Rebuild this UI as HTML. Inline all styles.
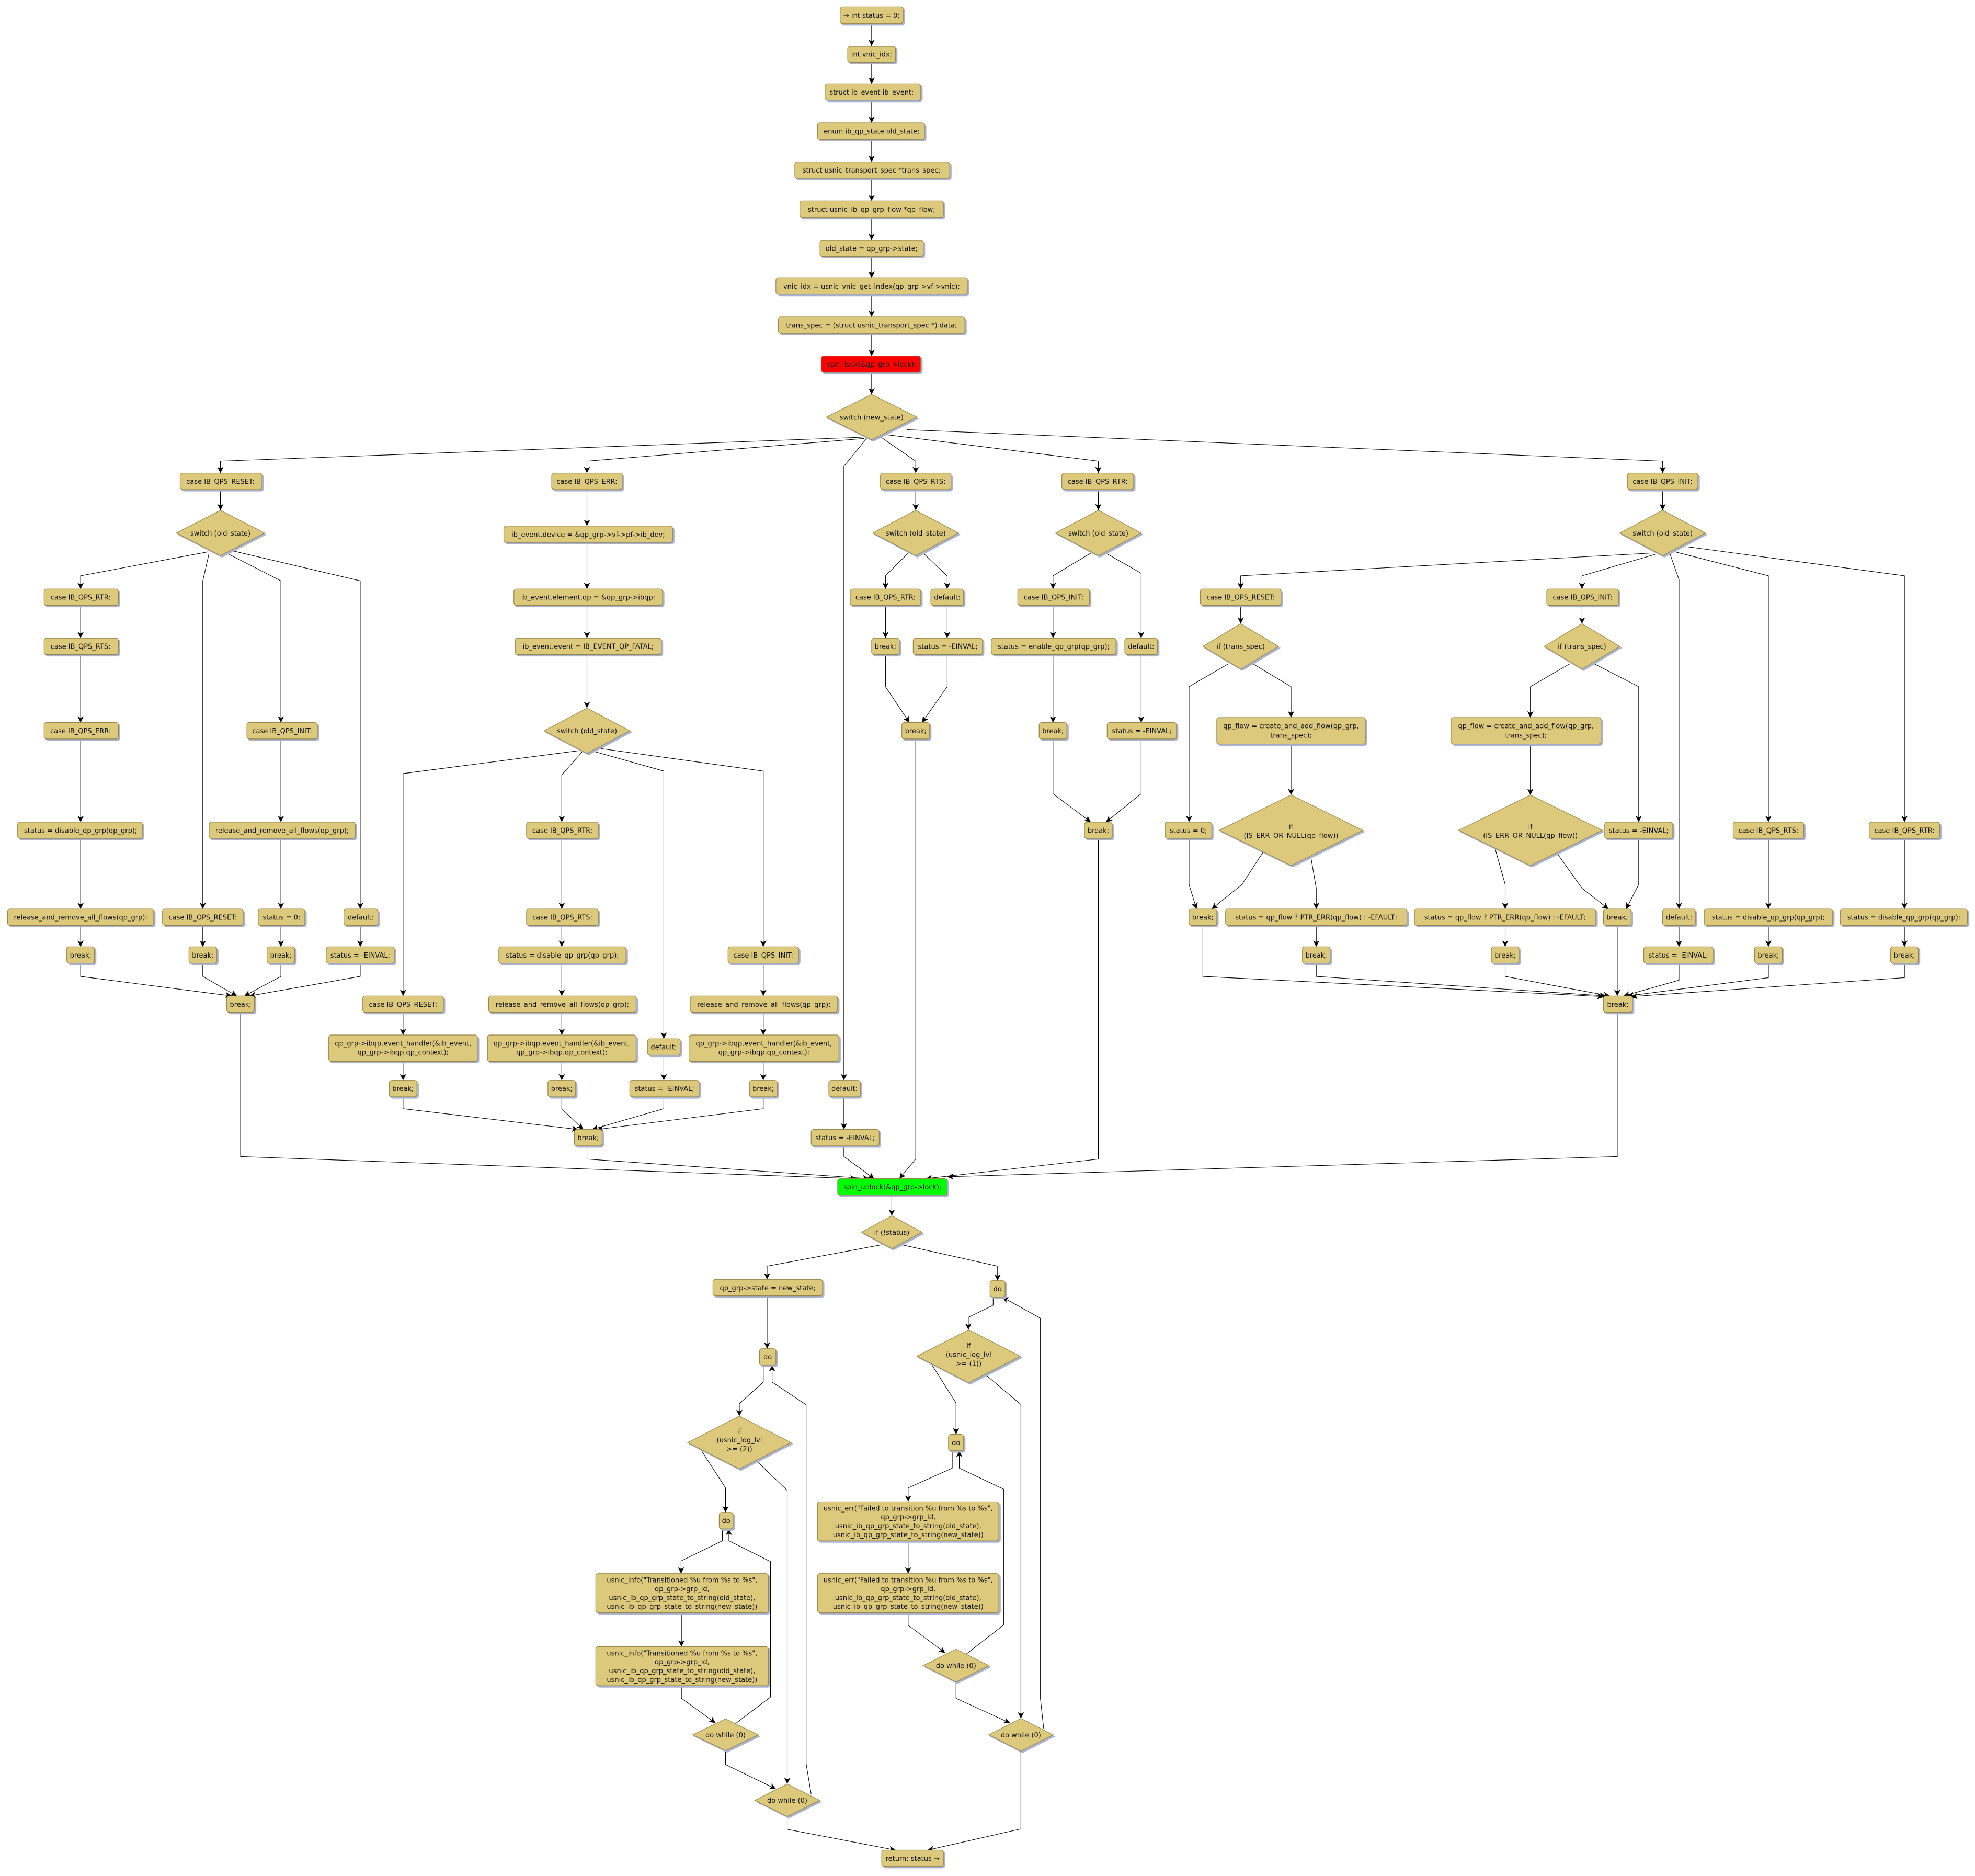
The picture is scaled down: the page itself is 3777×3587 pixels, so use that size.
<!DOCTYPE html>
<html><head><meta charset="utf-8"><style>
html,body{margin:0;padding:0;background:#fff}
svg{display:block}
text{font-family:"DejaVu Sans","Liberation Sans",sans-serif;font-size:5.4px;fill:#111;text-anchor:middle}
.b{fill:#dcc97c;stroke:#9a8647;stroke-width:0.5}
.e{fill:none;stroke:#000;stroke-width:0.45;marker-end:url(#ar)}
</style></head><body>
<svg width="3777" height="3587" viewBox="0 0 1568 1489" xmlns="http://www.w3.org/2000/svg">
<defs>
<marker id="ar" markerUnits="userSpaceOnUse" markerWidth="6" markerHeight="6" refX="5" refY="2.5" orient="auto"><path d="M0,0 L5,2.5 L0,5 L1.3,2.5 z" fill="#000"/></marker>
<filter id="sh" x="-10%" y="-10%" width="130%" height="140%"><feFlood flood-color="#a9b3cf"/><feComposite in2="SourceAlpha" operator="in"/><feOffset dx="1.3" dy="1.3" result="o"/><feMerge><feMergeNode in="o"/><feMergeNode in="SourceGraphic"/></feMerge></filter>
</defs>
<rect width="1568" height="1489" fill="#fff"/>

<g>
<polyline class="e" points="692,18.5 692,36.5"/>
<polyline class="e" points="692,49.5 692,66.5"/>
<polyline class="e" points="692,79.5 692,97.5"/>
<polyline class="e" points="692,110.5 692,128.5"/>
<polyline class="e" points="692,141.5 692,159.5"/>
<polyline class="e" points="692,172.5 692,190.5"/>
<polyline class="e" points="692,203.5 692,220.5"/>
<polyline class="e" points="692,233.5 692,251.5"/>
<polyline class="e" points="692,264.5 692,282.5"/>
<polyline class="e" points="692,295.5 692,313"/>
<polyline class="e" points="684,347 175,366 175,375.5"/>
<polyline class="e" points="686,348 466,366 466,375.5"/>
<polyline class="e" points="688,348 670,370 670,857.5"/>
<polyline class="e" points="698,346 727,366 727,375.5"/>
<polyline class="e" points="704,345 872,366 872,375.5"/>
<polyline class="e" points="720,341 1320,366 1320,375.5"/>
<polyline class="e" points="175,388.5 175,405"/>
<polyline class="e" points="165,438 64,457 64,467.5"/>
<polyline class="e" points="166,439 161,461 161,721.5"/>
<polyline class="e" points="180,439 223,461 223,573.5"/>
<polyline class="e" points="184,437 286,461 286,721.5"/>
<polyline class="e" points="64,480.5 64,506.5"/>
<polyline class="e" points="64,519.5 64,573.5"/>
<polyline class="e" points="64,586.5 64,652.5"/>
<polyline class="e" points="64,665.5 64,721.5"/>
<polyline class="e" points="64,734.5 64,751.5"/>
<polyline class="e" points="223,586.5 223,652.5"/>
<polyline class="e" points="223,665.5 223,721.5"/>
<polyline class="e" points="223,734.5 223,751.5"/>
<polyline class="e" points="161,734.5 161,751.5"/>
<polyline class="e" points="286,734.5 286,751.5"/>
<polyline class="e" points="64,764.5 64,775 184,790.5"/>
<polyline class="e" points="161,764.5 161,775 188,790.5"/>
<polyline class="e" points="223,764.5 223,775 194,790.5"/>
<polyline class="e" points="286,764.5 286,775 198,790.5"/>
<polyline class="e" points="191,803.5 191,918 680,935.5"/>
<polyline class="e" points="466,388.5 466,417.5"/>
<polyline class="e" points="466,430.5 466,467.5"/>
<polyline class="e" points="466,480.5 466,506.5"/>
<polyline class="e" points="466,519.5 466,562"/>
<polyline class="e" points="458,596 320,614 320,790.5"/>
<polyline class="e" points="462,597 446,615 446,652.5"/>
<polyline class="e" points="470,596 527,612 527,824.5"/>
<polyline class="e" points="476,594 606,612 606,751.5"/>
<polyline class="e" points="320,803.5 320,821.5"/>
<polyline class="e" points="320,842.5 320,857.5"/>
<polyline class="e" points="446,665.5 446,721.5"/>
<polyline class="e" points="446,734.5 446,751.5"/>
<polyline class="e" points="446,764.5 446,790.5"/>
<polyline class="e" points="446,803.5 446,821.5"/>
<polyline class="e" points="446,842.5 446,857.5"/>
<polyline class="e" points="527,837.5 527,857.5"/>
<polyline class="e" points="606,764.5 606,790.5"/>
<polyline class="e" points="606,803.5 606,821.5"/>
<polyline class="e" points="606,842.5 606,857.5"/>
<polyline class="e" points="320,870.5 320,880 459,896.5"/>
<polyline class="e" points="446,870.5 446,880 463,896.5"/>
<polyline class="e" points="527,870.5 527,880 470,896.5"/>
<polyline class="e" points="606,870.5 606,880 474,896.5"/>
<polyline class="e" points="466,909.5 466,920 690,935.5"/>
<polyline class="e" points="670,870.5 670,896.5"/>
<polyline class="e" points="670,909.5 670,918 694,935.5"/>
<polyline class="e" points="727,388.5 727,405"/>
<polyline class="e" points="721,439 703,457 703,467.5"/>
<polyline class="e" points="733,439 752,457 752,467.5"/>
<polyline class="e" points="703,480.5 703,506.5"/>
<polyline class="e" points="752,480.5 752,506.5"/>
<polyline class="e" points="703,519.5 703,545 722,573.5"/>
<polyline class="e" points="752,519.5 752,545 732,573.5"/>
<polyline class="e" points="727,586.5 727,920 714,935.5"/>
<polyline class="e" points="872,388.5 872,405"/>
<polyline class="e" points="866,439 836,457 836,467.5"/>
<polyline class="e" points="878,439 906,455 906,506.5"/>
<polyline class="e" points="836,480.5 836,506.5"/>
<polyline class="e" points="836,519.5 836,573.5"/>
<polyline class="e" points="906,519.5 906,573.5"/>
<polyline class="e" points="836,586.5 836,630 866,652.5"/>
<polyline class="e" points="906,586.5 906,630 878,652.5"/>
<polyline class="e" points="872,665.5 872,920 735,935.5"/>
<polyline class="e" points="1320,388.5 1320,405"/>
<polyline class="e" points="1310,439 985,457 985,467.5"/>
<polyline class="e" points="1314,440 1256,457 1256,467.5"/>
<polyline class="e" points="1326,440 1333,460 1333,721.5"/>
<polyline class="e" points="1330,438 1404,457 1404,652.5"/>
<polyline class="e" points="1340,434 1512,457 1512,652.5"/>
<polyline class="e" points="985,480.5 985,495"/>
<polyline class="e" points="975,527 944,545 944,652.5"/>
<polyline class="e" points="995,527 1025,545 1025,569.5"/>
<polyline class="e" points="1025,590.5 1025,631"/>
<polyline class="e" points="1005,673 986,702 962,721.5"/>
<polyline class="e" points="1040,676 1045,705 1045,721.5"/>
<polyline class="e" points="944,665.5 944,702 950,721.5"/>
<polyline class="e" points="1045,734.5 1045,751.5"/>
<polyline class="e" points="1256,480.5 1256,495"/>
<polyline class="e" points="1246,527 1215,545 1215,569.5"/>
<polyline class="e" points="1266,527 1301,545 1301,652.5"/>
<polyline class="e" points="1215,590.5 1215,631"/>
<polyline class="e" points="1186,670 1195,702 1195,721.5"/>
<polyline class="e" points="1236,677 1256,705 1277,721.5"/>
<polyline class="e" points="1301,665.5 1301,702 1291,721.5"/>
<polyline class="e" points="1195,734.5 1195,751.5"/>
<polyline class="e" points="1333,734.5 1333,751.5"/>
<polyline class="e" points="1404,665.5 1404,721.5"/>
<polyline class="e" points="1404,734.5 1404,751.5"/>
<polyline class="e" points="1512,665.5 1512,721.5"/>
<polyline class="e" points="1512,734.5 1512,751.5"/>
<polyline class="e" points="955,734.5 955,775 1273,791"/>
<polyline class="e" points="1045,764.5 1045,775 1275,790.5"/>
<polyline class="e" points="1195,764.5 1195,775 1278,790.5"/>
<polyline class="e" points="1284,734.5 1284,790.5"/>
<polyline class="e" points="1333,764.5 1333,778 1289,790.5"/>
<polyline class="e" points="1404,764.5 1404,776 1292,790.5"/>
<polyline class="e" points="1512,764.5 1512,776 1295,791"/>
<polyline class="e" points="1284,803.5 1284,918 752,934"/>
<polyline class="e" points="708,948.5 708,965"/>
<polyline class="e" points="700,988 609,1005 609,1015.5"/>
<polyline class="e" points="716,988 792,1005 792,1016.5"/>
<polyline class="e" points="609,1028.5 609,1070.5"/>
<polyline class="e" points="606,1083.5 606,1097 587,1114 587,1124"/>
<polyline class="e" points="644,1424 640,1400 640,1115 613,1097 613,1083.5"/>
<polyline class="e" points="556,1150 576,1181 576,1200.5"/>
<polyline class="e" points="600,1159 625,1183 625,1416"/>
<polyline class="e" points="573.5,1213.5 573.5,1223 540.7,1239 540.7,1249"/>
<polyline class="e" points="541,1280 541,1307"/>
<polyline class="e" points="541,1338 541,1348 568,1367.6"/>
<polyline class="e" points="584,1368 611.7,1347 611.7,1239.5 578.7,1223 578.7,1213.5"/>
<polyline class="e" points="576,1389.6 576,1400.6 616,1420"/>
<polyline class="e" points="625,1441.8 625,1452 711,1468.5"/>
<polyline class="e" points="788.5,1029.5 788.5,1036 768.8,1045.6 768.8,1055.5"/>
<polyline class="e" points="739,1082 759,1113.6 759,1138.5"/>
<polyline class="e" points="782,1090.7 810.5,1114.8 810.5,1364"/>
<polyline class="e" points="756,1151.5 756,1165.3 721,1181 721,1192"/>
<polyline class="e" points="721,1223 721,1249"/>
<polyline class="e" points="721,1280 721,1290 750.4,1312"/>
<polyline class="e" points="767,1313 796.8,1289.8 796.8,1182 761.6,1165.3 761.6,1151.5"/>
<polyline class="e" points="759,1335 759,1348 801.8,1367.6"/>
<polyline class="e" points="828.6,1372 826,1348 826,1046.3 795.8,1029.6"/>
<polyline class="e" points="810.5,1390 810.5,1451.7 736.4,1468.5"/>
</g>

<g filter="url(#sh)">
<rect class="b" x="667" y="5.5" width="50" height="13" rx="2"/>
<rect class="b" x="673" y="36.5" width="38" height="13" rx="2"/>
<rect class="b" x="655" y="66.5" width="76" height="13" rx="2"/>
<rect class="b" x="649" y="97.5" width="85" height="13" rx="2"/>
<rect class="b" x="631" y="128.5" width="123" height="13" rx="2"/>
<rect class="b" x="635" y="159.5" width="114" height="13" rx="2"/>
<rect class="b" x="651" y="190.5" width="82" height="13" rx="2"/>
<rect class="b" x="616" y="220.5" width="152" height="13" rx="2"/>
<rect class="b" x="618" y="251.5" width="148" height="13" rx="2"/>
<rect x="652" y="282.5" width="79" height="13" rx="2" fill="#ff0000" stroke="#9a8647" stroke-width="0.5"/>
<polygon class="b" points="692,313 728,331 692,349 656,331"/>
<rect class="b" x="143" y="375.5" width="65" height="13" rx="2"/>
<polygon class="b" points="175,405 210,423 175,441 140,423"/>
<rect class="b" x="35" y="467.5" width="59" height="13" rx="2"/>
<rect class="b" x="35" y="506.5" width="59" height="13" rx="2"/>
<rect class="b" x="35" y="573.5" width="59" height="13" rx="2"/>
<rect class="b" x="14" y="652.5" width="99" height="13" rx="2"/>
<rect class="b" x="6" y="721.5" width="116" height="13" rx="2"/>
<rect class="b" x="53" y="751.5" width="22" height="13" rx="2"/>
<rect class="b" x="129" y="721.5" width="64" height="13" rx="2"/>
<rect class="b" x="150" y="751.5" width="22" height="13" rx="2"/>
<rect class="b" x="196" y="573.5" width="56" height="13" rx="2"/>
<rect class="b" x="166" y="652.5" width="116" height="13" rx="2"/>
<rect class="b" x="205" y="721.5" width="37" height="13" rx="2"/>
<rect class="b" x="212" y="751.5" width="22" height="13" rx="2"/>
<rect class="b" x="273" y="721.5" width="27" height="13" rx="2"/>
<rect class="b" x="259" y="751.5" width="54" height="13" rx="2"/>
<rect class="b" x="180" y="790.5" width="22" height="13" rx="2"/>
<rect class="b" x="438" y="375.5" width="56" height="13" rx="2"/>
<rect class="b" x="400" y="417.5" width="134" height="13" rx="2"/>
<rect class="b" x="408" y="467.5" width="118" height="13" rx="2"/>
<rect class="b" x="409" y="506.5" width="116" height="13" rx="2"/>
<polygon class="b" points="466,562 500,580 466,598 432,580"/>
<rect class="b" x="288" y="790.5" width="64" height="13" rx="2"/>
<rect class="b" x="261" y="821.5" width="118" height="21" rx="2"/>
<rect class="b" x="309" y="857.5" width="22" height="13" rx="2"/>
<rect class="b" x="418" y="652.5" width="57" height="13" rx="2"/>
<rect class="b" x="418" y="721.5" width="57" height="13" rx="2"/>
<rect class="b" x="396" y="751.5" width="101" height="13" rx="2"/>
<rect class="b" x="388" y="790.5" width="117" height="13" rx="2"/>
<rect class="b" x="387" y="821.5" width="118" height="21" rx="2"/>
<rect class="b" x="435" y="857.5" width="22" height="13" rx="2"/>
<rect class="b" x="514" y="824.5" width="26" height="13" rx="2"/>
<rect class="b" x="500" y="857.5" width="55" height="13" rx="2"/>
<rect class="b" x="578" y="751.5" width="56" height="13" rx="2"/>
<rect class="b" x="548" y="790.5" width="117" height="13" rx="2"/>
<rect class="b" x="547" y="821.5" width="119" height="21" rx="2"/>
<rect class="b" x="595" y="857.5" width="22" height="13" rx="2"/>
<rect class="b" x="456" y="896.5" width="22" height="13" rx="2"/>
<rect class="b" x="658" y="857.5" width="25" height="13" rx="2"/>
<rect class="b" x="644" y="896.5" width="54" height="13" rx="2"/>
<rect class="b" x="699" y="375.5" width="56" height="13" rx="2"/>
<polygon class="b" points="727,405 761,423 727,441 693,423"/>
<rect class="b" x="675" y="467.5" width="56" height="13" rx="2"/>
<rect class="b" x="692" y="506.5" width="22" height="13" rx="2"/>
<rect class="b" x="739" y="467.5" width="26" height="13" rx="2"/>
<rect class="b" x="725" y="506.5" width="55" height="13" rx="2"/>
<rect class="b" x="716" y="573.5" width="22" height="13" rx="2"/>
<rect class="b" x="843" y="375.5" width="57" height="13" rx="2"/>
<polygon class="b" points="872,405 906,423 872,441 838,423"/>
<rect class="b" x="808" y="467.5" width="57" height="13" rx="2"/>
<rect class="b" x="787" y="506.5" width="99" height="13" rx="2"/>
<rect class="b" x="825" y="573.5" width="22" height="13" rx="2"/>
<rect class="b" x="893" y="506.5" width="26" height="13" rx="2"/>
<rect class="b" x="879" y="573.5" width="55" height="13" rx="2"/>
<rect class="b" x="861" y="652.5" width="22" height="13" rx="2"/>
<rect class="b" x="1292" y="375.5" width="56" height="13" rx="2"/>
<polygon class="b" points="1320,405 1354,423 1320,441 1286,423"/>
<rect class="b" x="953" y="467.5" width="64" height="13" rx="2"/>
<polygon class="b" points="985,495 1015,513 985,531 955,513"/>
<rect class="b" x="925" y="652.5" width="37" height="13" rx="2"/>
<rect class="b" x="966" y="569.5" width="118" height="21" rx="2"/>
<polygon class="b" points="1025,631 1082,659 1025,687 968,659"/>
<rect class="b" x="973" y="721.5" width="144" height="13" rx="2"/>
<rect class="b" x="1034" y="751.5" width="22" height="13" rx="2"/>
<rect class="b" x="944" y="721.5" width="22" height="13" rx="2"/>
<rect class="b" x="1228" y="467.5" width="57" height="13" rx="2"/>
<polygon class="b" points="1256,495 1286,513 1256,531 1226,513"/>
<rect class="b" x="1152" y="569.5" width="119" height="21" rx="2"/>
<polygon class="b" points="1215,631 1272,659 1215,687 1158,659"/>
<rect class="b" x="1123" y="721.5" width="144" height="13" rx="2"/>
<rect class="b" x="1184" y="751.5" width="22" height="13" rx="2"/>
<rect class="b" x="1274" y="652.5" width="54" height="13" rx="2"/>
<rect class="b" x="1273" y="721.5" width="22" height="13" rx="2"/>
<rect class="b" x="1320" y="721.5" width="26" height="13" rx="2"/>
<rect class="b" x="1305" y="751.5" width="55" height="13" rx="2"/>
<rect class="b" x="1376" y="652.5" width="56" height="13" rx="2"/>
<rect class="b" x="1353" y="721.5" width="102" height="13" rx="2"/>
<rect class="b" x="1393" y="751.5" width="22" height="13" rx="2"/>
<rect class="b" x="1484" y="652.5" width="56" height="13" rx="2"/>
<rect class="b" x="1461" y="721.5" width="101" height="13" rx="2"/>
<rect class="b" x="1501" y="751.5" width="22" height="13" rx="2"/>
<rect class="b" x="1273" y="790.5" width="23" height="13" rx="2"/>
<rect x="665" y="935.5" width="87" height="13" rx="2" fill="#00ff00" stroke="#9a8647" stroke-width="0.5"/>
<polygon class="b" points="708,965 732,978 708,991 684,978"/>
<rect class="b" x="566" y="1015.5" width="87" height="13" rx="2"/>
<rect class="b" x="603" y="1070.5" width="13" height="13" rx="2"/>
<polygon class="b" points="587,1124 628,1145 587,1166 546,1145"/>
<rect class="b" x="571" y="1200.5" width="11" height="13" rx="2"/>
<rect class="b" x="473" y="1249" width="137" height="31" rx="2"/>
<rect class="b" x="473" y="1307" width="137" height="31" rx="2"/>
<polygon class="b" points="576,1364.4 602,1377 576,1389.6 550,1377"/>
<polygon class="b" points="625,1416 650.7,1429 625,1441.8 599.3,1429"/>
<rect class="b" x="786" y="1016.5" width="12" height="13" rx="2"/>
<polygon class="b" points="769,1055.5 810,1076.5 769,1097.5 728,1076.5"/>
<rect class="b" x="753" y="1138.5" width="12" height="13" rx="2"/>
<rect class="b" x="649" y="1192" width="144" height="31" rx="2"/>
<rect class="b" x="649" y="1249" width="144" height="31" rx="2"/>
<polygon class="b" points="759,1309 785,1322 759,1335 733,1322"/>
<polygon class="b" points="810.5,1364 836,1377 810.5,1390 785,1377"/>
<rect class="b" x="700" y="1468.5" width="49" height="13" rx="2"/>
</g>

<g>
<text x="692" y="14">→ int status = 0;</text>
<text x="692" y="45">int vnic_idx;</text>
<text x="692" y="75">struct ib_event ib_event;</text>
<text x="692" y="106">enum ib_qp_state old_state;</text>
<text x="692" y="137">struct usnic_transport_spec *trans_spec;</text>
<text x="692" y="168">struct usnic_ib_qp_grp_flow *qp_flow;</text>
<text x="692" y="199">old_state = qp_grp-&gt;state;</text>
<text x="692" y="229">vnic_idx = usnic_vnic_get_index(qp_grp-&gt;vf-&gt;vnic);</text>
<text x="692" y="260">trans_spec = (struct usnic_transport_spec *) data;</text>
<text x="692" y="291">spin_lock(&amp;qp_grp-&gt;lock);</text>
<text x="692" y="333">switch (new_state)</text>
<text x="175" y="384">case IB_QPS_RESET:</text>
<text x="175" y="425">switch (old_state)</text>
<text x="64" y="476">case IB_QPS_RTR:</text>
<text x="64" y="515">case IB_QPS_RTS:</text>
<text x="64" y="582">case IB_QPS_ERR:</text>
<text x="64" y="661">status = disable_qp_grp(qp_grp);</text>
<text x="64" y="730">release_and_remove_all_flows(qp_grp);</text>
<text x="64" y="760">break;</text>
<text x="161" y="730">case IB_QPS_RESET:</text>
<text x="161" y="760">break;</text>
<text x="224" y="582">case IB_QPS_INIT:</text>
<text x="224" y="661">release_and_remove_all_flows(qp_grp);</text>
<text x="223.5" y="730">status = 0;</text>
<text x="223" y="760">break;</text>
<text x="286.5" y="730">default:</text>
<text x="286" y="760">status = -EINVAL;</text>
<text x="191" y="799">break;</text>
<text x="466" y="384">case IB_QPS_ERR:</text>
<text x="467" y="426">ib_event.device = &amp;qp_grp-&gt;vf-&gt;pf-&gt;ib_dev;</text>
<text x="467" y="476">ib_event.element.qp = &amp;qp_grp-&gt;ibqp;</text>
<text x="467" y="515">ib_event.event = IB_EVENT_QP_FATAL;</text>
<text x="466" y="582">switch (old_state)</text>
<text x="320" y="799">case IB_QPS_RESET:</text>
<text x="320" y="830">qp_grp-&gt;ibqp.event_handler(&amp;ib_event,</text>
<text x="320" y="837">qp_grp-&gt;ibqp.qp_context);</text>
<text x="320" y="866">break;</text>
<text x="446.5" y="661">case IB_QPS_RTR:</text>
<text x="446.5" y="730">case IB_QPS_RTS:</text>
<text x="446.5" y="760">status = disable_qp_grp(qp_grp);</text>
<text x="446.5" y="799">release_and_remove_all_flows(qp_grp);</text>
<text x="446" y="830">qp_grp-&gt;ibqp.event_handler(&amp;ib_event,</text>
<text x="446" y="837">qp_grp-&gt;ibqp.qp_context);</text>
<text x="446" y="866">break;</text>
<text x="527" y="833">default:</text>
<text x="527.5" y="866">status = -EINVAL;</text>
<text x="606" y="760">case IB_QPS_INIT:</text>
<text x="606.5" y="799">release_and_remove_all_flows(qp_grp);</text>
<text x="606.5" y="830">qp_grp-&gt;ibqp.event_handler(&amp;ib_event,</text>
<text x="606.5" y="837">qp_grp-&gt;ibqp.qp_context);</text>
<text x="606" y="866">break;</text>
<text x="467" y="905">break;</text>
<text x="670.5" y="866">default:</text>
<text x="671" y="905">status = -EINVAL;</text>
<text x="727" y="384">case IB_QPS_RTS:</text>
<text x="727" y="425">switch (old_state)</text>
<text x="703" y="476">case IB_QPS_RTR:</text>
<text x="703" y="515">break;</text>
<text x="752" y="476">default:</text>
<text x="752.5" y="515">status = -EINVAL;</text>
<text x="727" y="582">break;</text>
<text x="871.5" y="384">case IB_QPS_RTR:</text>
<text x="872" y="425">switch (old_state)</text>
<text x="836.5" y="476">case IB_QPS_INIT:</text>
<text x="836.5" y="515">status = enable_qp_grp(qp_grp);</text>
<text x="836" y="582">break;</text>
<text x="906" y="515">default:</text>
<text x="906.5" y="582">status = -EINVAL;</text>
<text x="872" y="661">break;</text>
<text x="1320" y="384">case IB_QPS_INIT:</text>
<text x="1320" y="425">switch (old_state)</text>
<text x="985" y="476">case IB_QPS_RESET:</text>
<text x="985" y="515">if (trans_spec)</text>
<text x="943.5" y="661">status = 0;</text>
<text x="1025" y="578">qp_flow = create_and_add_flow(qp_grp,</text>
<text x="1025" y="585.5">trans_spec);</text>
<text x="1025" y="658">if</text>
<text x="1025" y="665">(IS_ERR_OR_NULL(qp_flow))</text>
<text x="1045" y="730">status = qp_flow ? PTR_ERR(qp_flow) : -EFAULT;</text>
<text x="1045" y="760">break;</text>
<text x="955" y="730">break;</text>
<text x="1256.5" y="476">case IB_QPS_INIT:</text>
<text x="1256" y="515">if (trans_spec)</text>
<text x="1211.5" y="578">qp_flow = create_and_add_flow(qp_grp,</text>
<text x="1211.5" y="585.5">trans_spec);</text>
<text x="1215" y="658">if</text>
<text x="1215" y="665">(IS_ERR_OR_NULL(qp_flow))</text>
<text x="1195" y="730">status = qp_flow ? PTR_ERR(qp_flow) : -EFAULT;</text>
<text x="1195" y="760">break;</text>
<text x="1301" y="661">status = -EINVAL;</text>
<text x="1284" y="730">break;</text>
<text x="1333" y="730">default:</text>
<text x="1332.5" y="760">status = -EINVAL;</text>
<text x="1404" y="661">case IB_QPS_RTS:</text>
<text x="1404" y="730">status = disable_qp_grp(qp_grp);</text>
<text x="1404" y="760">break;</text>
<text x="1512" y="661">case IB_QPS_RTR:</text>
<text x="1511.5" y="730">status = disable_qp_grp(qp_grp);</text>
<text x="1512" y="760">break;</text>
<text x="1284.5" y="799">break;</text>
<text x="708.5" y="944">spin_unlock(&amp;qp_grp-&gt;lock);</text>
<text x="708" y="980">if (!status)</text>
<text x="609.5" y="1024">qp_grp-&gt;state = new_state;</text>
<text x="609.5" y="1079">do</text>
<text x="587" y="1138">if</text>
<text x="587" y="1145">(usnic_log_lvl</text>
<text x="587" y="1152">&gt;= (2))</text>
<text x="576.5" y="1209">do</text>
<text x="541.5" y="1256">usnic_info("Transitioned %u from %s to %s",</text>
<text x="541.5" y="1263">qp_grp-&gt;grp_id,</text>
<text x="541.5" y="1270">usnic_ib_qp_grp_state_to_string(old_state),</text>
<text x="541.5" y="1277">usnic_ib_qp_grp_state_to_string(new_state))</text>
<text x="541.5" y="1314">usnic_info("Transitioned %u from %s to %s",</text>
<text x="541.5" y="1321">qp_grp-&gt;grp_id,</text>
<text x="541.5" y="1328">usnic_ib_qp_grp_state_to_string(old_state),</text>
<text x="541.5" y="1335">usnic_ib_qp_grp_state_to_string(new_state))</text>
<text x="576" y="1379">do while (0)</text>
<text x="625" y="1431">do while (0)</text>
<text x="792" y="1025">do</text>
<text x="769" y="1070">if</text>
<text x="769" y="1077">(usnic_log_lvl</text>
<text x="769" y="1084">&gt;= (1))</text>
<text x="759" y="1147">do</text>
<text x="721" y="1199">usnic_err("Failed to transition %u from %s to %s",</text>
<text x="721" y="1206">qp_grp-&gt;grp_id,</text>
<text x="721" y="1213">usnic_ib_qp_grp_state_to_string(old_state),</text>
<text x="721" y="1220">usnic_ib_qp_grp_state_to_string(new_state))</text>
<text x="721" y="1256">usnic_err("Failed to transition %u from %s to %s",</text>
<text x="721" y="1263">qp_grp-&gt;grp_id,</text>
<text x="721" y="1270">usnic_ib_qp_grp_state_to_string(old_state),</text>
<text x="721" y="1277">usnic_ib_qp_grp_state_to_string(new_state))</text>
<text x="759" y="1324">do while (0)</text>
<text x="810.5" y="1379">do while (0)</text>
<text x="724.5" y="1477">return; status →</text>
</g>
</svg>
</body></html>
